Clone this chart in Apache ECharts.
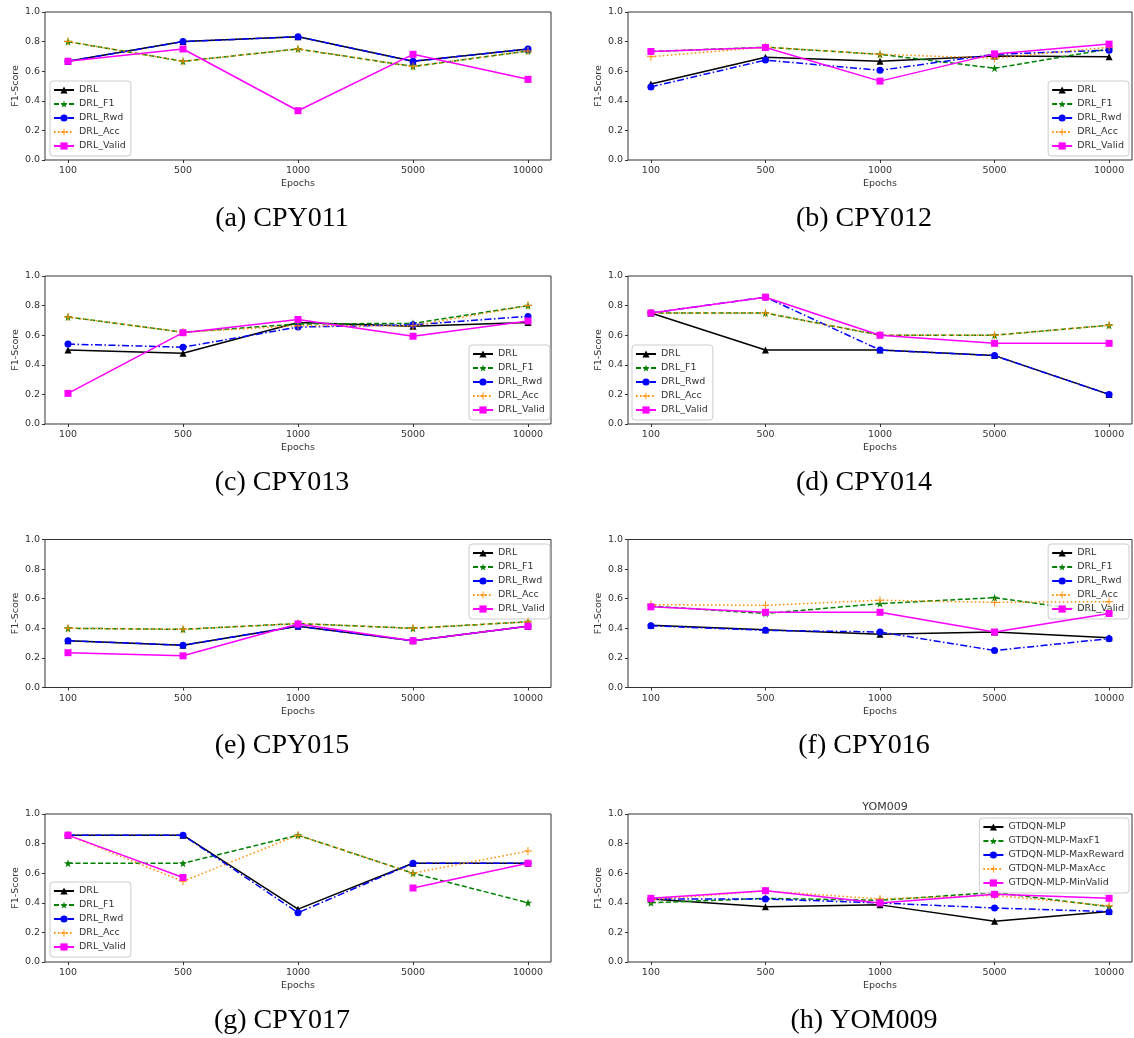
<!DOCTYPE html>
<html>
<head>
<meta charset="utf-8">
<script src="https://cdn.jsdelivr.net/npm/echarts@6/dist/echarts.min.js"></script>
<style>
html,body{margin:0;padding:0;background:#fff;}
#chart{width:1134px;height:1038px;}
</style>
</head>
<body>
<div id="chart"></div>
<script>
// ---- data ----
const categories = ['100', '500', '1000', '5000', '10000'];
const drlNames = ['DRL', 'DRL_F1', 'DRL_Rwd', 'DRL_Acc', 'DRL_Valid'];
const yomNames = ['GTDQN-MLP', 'GTDQN-MLP-MaxF1', 'GTDQN-MLP-MaxReward', 'GTDQN-MLP-MaxAcc', 'GTDQN-MLP-MinValid'];
const captions = ['(a) CPY011', '(b) CPY012', '(c) CPY013', '(d) CPY014', '(e) CPY015', '(f) CPY016', '(g) CPY017', '(h) YOM009'];

const cpy011_drl   = [0.667, 0.800, 0.833, 0.667, 0.750];
const cpy011_f1    = [0.800, 0.667, 0.750, 0.632, 0.737];
const cpy011_rwd   = [0.667, 0.800, 0.833, 0.667, 0.750];
const cpy011_acc   = [0.800, 0.667, 0.750, 0.632, 0.737];
const cpy011_valid = [0.667, 0.750, 0.333, 0.714, 0.545];

const cpy012_drl   = [0.514, 0.694, 0.667, 0.703, 0.698];
const cpy012_f1    = [0.733, 0.762, 0.714, 0.620, 0.750];
const cpy012_rwd   = [0.494, 0.675, 0.606, 0.714, 0.742];
const cpy012_acc   = [0.698, 0.762, 0.714, 0.688, 0.762];
const cpy012_valid = [0.733, 0.760, 0.533, 0.717, 0.783];

const cpy013_drl   = [0.500, 0.478, 0.686, 0.660, 0.686];
const cpy013_f1    = [0.723, 0.620, 0.676, 0.680, 0.800];
const cpy013_rwd   = [0.540, 0.519, 0.655, 0.670, 0.727];
const cpy013_acc   = [0.723, 0.620, 0.664, 0.663, 0.800];
const cpy013_valid = [0.207, 0.617, 0.706, 0.593, 0.696];

const cpy014_drl   = [0.750, 0.500, 0.500, 0.462, 0.200];
const cpy014_f1    = [0.750, 0.750, 0.600, 0.600, 0.667];
const cpy014_rwd   = [0.750, 0.857, 0.500, 0.462, 0.200];
const cpy014_acc   = [0.750, 0.750, 0.600, 0.600, 0.667];
const cpy014_valid = [0.750, 0.857, 0.600, 0.545, 0.545];

const cpy015_drl   = [0.316, 0.286, 0.414, 0.316, 0.414];
const cpy015_f1    = [0.400, 0.393, 0.432, 0.400, 0.444];
const cpy015_rwd   = [0.316, 0.286, 0.414, 0.316, 0.414];
const cpy015_acc   = [0.400, 0.393, 0.432, 0.400, 0.444];
const cpy015_valid = [0.235, 0.214, 0.429, 0.316, 0.414];

const cpy016_drl   = [0.421, 0.391, 0.360, 0.375, 0.336];
const cpy016_f1    = [0.550, 0.500, 0.567, 0.607, 0.500];
const cpy016_rwd   = [0.417, 0.386, 0.375, 0.250, 0.330];
const cpy016_acc   = [0.560, 0.555, 0.590, 0.575, 0.580];
const cpy016_valid = [0.545, 0.508, 0.508, 0.375, 0.500];

const cpy017_drl   = [0.857, 0.857, 0.357, 0.667, 0.667];
const cpy017_f1    = [0.667, 0.667, 0.857, 0.600, 0.400];
const cpy017_rwd   = [0.857, 0.857, 0.333, 0.667, 0.667];
const cpy017_acc   = [0.857, 0.545, 0.857, 0.600, 0.750];
const cpy017_valid = [0.857, 0.571, null, 0.500, 0.667];

const yom009_mlp      = [0.426, 0.374, 0.386, 0.275, 0.342];
const yom009_maxf1    = [0.400, 0.430, 0.417, 0.470, 0.374];
const yom009_maxrwd   = [0.426, 0.426, 0.399, 0.365, 0.340];
const yom009_maxacc   = [0.420, 0.480, 0.426, 0.450, 0.380];
const yom009_minvalid = [0.430, 0.482, 0.399, 0.457, 0.430];

const panels = [
  [cpy011_drl, cpy011_f1, cpy011_rwd, cpy011_acc, cpy011_valid],
  [cpy012_drl, cpy012_f1, cpy012_rwd, cpy012_acc, cpy012_valid],
  [cpy013_drl, cpy013_f1, cpy013_rwd, cpy013_acc, cpy013_valid],
  [cpy014_drl, cpy014_f1, cpy014_rwd, cpy014_acc, cpy014_valid],
  [cpy015_drl, cpy015_f1, cpy015_rwd, cpy015_acc, cpy015_valid],
  [cpy016_drl, cpy016_f1, cpy016_rwd, cpy016_acc, cpy016_valid],
  [cpy017_drl, cpy017_f1, cpy017_rwd, cpy017_acc, cpy017_valid],
  [yom009_mlp, yom009_maxf1, yom009_maxrwd, yom009_maxacc, yom009_minvalid]
];

// ---- styles / layout ----
const STAR = 'path://M50,0 L61.8,35.1 L98.6,35.1 L68.8,56.7 L80.2,91.9 L50,70.2 L19.8,91.9 L31.2,56.7 L1.4,35.1 L38.2,35.1 Z';
const PLUS = 'path://M44,0 H56 V44 H100 V56 H56 V100 H44 V56 H0 V44 H44 Z';
const styles = [
  { color: '#000000', type: 'solid', symbol: 'triangle', size: 7 },
  { color: '#008000', type: [5, 2.5], symbol: STAR, size: 8 },
  { color: '#0000ff', type: [7, 2.5, 1.5, 2.5], symbol: 'circle', size: 7 },
  { color: '#ff8c00', type: [1.5, 2.5], symbol: PLUS, size: 8 },
  { color: '#ff00ff', type: 'solid', symbol: 'rect', size: 7 }
];
const colLeft = [45, 628];
const colWidth = [506, 504];
const rowTop = [12, 276, 539.5, 814];
const plotH = 148;
const capX = [282, 864];
const capY = [219, 483, 746, 1021];
const legendPos = [
  { left: 50, top: 81 },
  { right: 5, top: 81 },
  { left: 469, top: 345 },
  { left: 632, top: 345 },
  { left: 469, top: 544 },
  { right: 5, top: 544 },
  { left: 50, top: 882 },
  { right: 5, top: 818 }
];
const TXT = '#333';
const FONT = 'DejaVu Sans';

const grids = [], xAxes = [], yAxes = [], series = [], legends = [], graphics = [];
panels.forEach((panel, p) => {
  const col = p % 2, row = Math.floor(p / 2);
  grids.push({ left: colLeft[col], top: rowTop[row], width: colWidth[col], height: plotH,
    show: true, borderColor: '#333', borderWidth: 1, backgroundColor: 'transparent' });
  xAxes.push({
    type: 'value', gridIndex: p, min: -0.2, max: 4.2, position: 'bottom',
    name: 'Epochs', nameLocation: 'middle', nameGap: 19,
    nameTextStyle: { fontFamily: FONT, fontSize: 9.5, color: TXT },
    axisLine: { show: false, onZero: false },
    axisTick: { show: true, length: 3, customValues: [0, 1, 2, 3, 4], lineStyle: { color: '#333' } },
    axisLabel: { customValues: [0, 1, 2, 3, 4], formatter: v => categories[Math.round(v)],
      fontFamily: FONT, fontSize: 9.5, color: TXT, margin: 6 },
    splitLine: { show: false }
  });
  yAxes.push({
    type: 'value', gridIndex: p, min: 0, max: 1, interval: 0.2, position: 'left',
    name: 'F1-Score', nameLocation: 'middle', nameGap: 23, nameRotate: 90,
    nameTextStyle: { fontFamily: FONT, fontSize: 9.5, color: TXT },
    axisLine: { show: false, onZero: false },
    axisTick: { show: true, length: 3, lineStyle: { color: '#333' } },
    axisLabel: { formatter: v => v.toFixed(1), fontFamily: FONT, fontSize: 9.5, color: TXT, margin: 5 },
    splitLine: { show: false }
  });
  const names = p === 7 ? yomNames : drlNames;
  panel.forEach((vals, k) => {
    const s = styles[k];
    series.push({
      type: 'line', name: names[k], xAxisIndex: p, yAxisIndex: p,
      data: vals.map((v, i) => [i, v === null ? '-' : v]),
      symbol: s.symbol, symbolSize: s.size, showSymbol: true,
      connectNulls: false,
      lineStyle: { color: s.color, width: 1.5, type: s.type },
      itemStyle: { color: s.color, borderWidth: 0 },
      emphasis: { disabled: true },
      z: 2 + k, animation: false
    });
  });
  legends.push(Object.assign({
    data: names, orient: 'vertical', itemWidth: 20, itemHeight: 9, itemGap: 4,
    padding: [4, 5, 5, 3], backgroundColor: 'rgba(255,255,255,0.8)',
    borderColor: '#cccccc', borderWidth: 1, borderRadius: 3,
    textStyle: { fontFamily: FONT, fontSize: 9.5, color: TXT },
    selectedMode: false
  }, legendPos[p]));
  graphics.push({
    type: 'text', x: capX[col], y: capY[row], silent: true,
    style: { text: captions[p], x: 0, y: 0, align: 'center', verticalAlign: 'middle',
      font: '28px "Liberation Serif"', fill: '#000' }
  });
});

const chart = echarts.init(document.getElementById('chart'), null, { renderer: 'canvas' });
chart.setOption({
  backgroundColor: '#fff',
  animation: false,
  title: { text: 'YOM009', left: 880, top: 797, textAlign: 'center',
    textStyle: { fontFamily: FONT, fontSize: 11, fontWeight: 'normal', color: TXT } },
  grid: grids, xAxis: xAxes, yAxis: yAxes, legend: legends, series: series,
  graphic: graphics
});
</script>
</body>
</html>
